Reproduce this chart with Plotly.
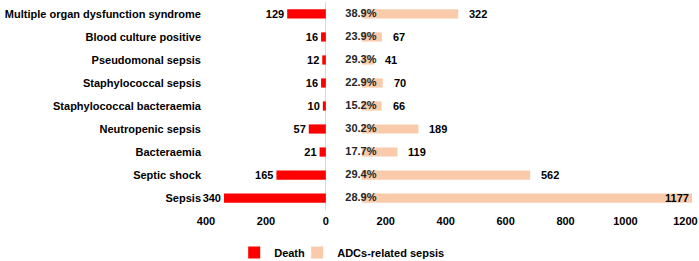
import plotly.graph_objects as go

categories = ["Multiple organ dysfunction syndrome", "Blood culture positive",
              "Pseudomonal sepsis", "Staphylococcal sepsis", "Staphylococcal bacteraemia",
              "Neutropenic sepsis", "Bacteraemia", "Septic shock", "Sepsis"]
death = [129, 16, 12, 16, 10, 57, 21, 165, 340]
adcs = [322, 67, 41, 70, 66, 189, 119, 562, 1177]
pct = ["38.9%", "23.9%", "29.3%", "22.9%", "15.2%", "30.2%", "17.7%", "29.4%", "28.9%"]
tick_vals = [-400, -200, 0, 200, 400, 600, 800, 1000, 1200]
tick_text = ["400", "200", "0", "200", "400", "600", "800", "1000", "1200"]

GAP = 120      # space reserved for the percentage labels (stacked offset in original)
PCT_X = 65
XMIN, XMAX = -400, 1222
FONT = "Arial, Liberation Sans, sans-serif"
BOLD = dict(family=FONT, size=11, color="black", weight="bold")

fig = go.Figure()
fig.add_trace(go.Bar(
    y=categories, x=[-d for d in death], orientation="h", name="Death",
    marker=dict(color="#FF0000", line=dict(width=0)), width=0.4,
    text=[str(d) for d in death], textposition="outside", constraintext="none",
    textfont=BOLD, cliponaxis=False, hoverinfo="skip", legendwidth=18))
fig.add_trace(go.Bar(
    y=categories, x=adcs, base=GAP, orientation="h", name="ADCs-related sepsis",
    marker=dict(color="#F9CBAB", line=dict(width=0)), width=0.4,
    hoverinfo="skip"))
fig.add_trace(go.Scatter(
    y=categories, x=[PCT_X] * len(categories), mode="text", text=pct,
    textposition="middle right", showlegend=False, cliponaxis=False,
    textfont=dict(family=FONT, size=11, color="#262626"), hoverinfo="skip"))

annotations = []
for cat, v in zip(categories, adcs):
    end = GAP + v
    if end > XMAX:
        annotations.append(dict(x=XMAX, y=cat, xref="x", yref="y", text=str(v),
                                showarrow=False, xanchor="right", xshift=-1, font=BOLD))
    else:
        annotations.append(dict(x=end, y=cat, xref="x", yref="y", text=str(v),
                                showarrow=False, xanchor="left", xshift=9, font=BOLD))

fig.update_layout(
    width=699, height=261, barmode="overlay",
    margin=dict(l=206, r=7, t=2, b=51, autoexpand=False),
    paper_bgcolor="white", plot_bgcolor="white",
    font=BOLD,
    annotations=annotations,
    xaxis=dict(range=[XMIN, XMAX], tickvals=tick_vals, ticktext=tick_text,
               showgrid=False, zeroline=True, zerolinecolor="#D9D9D9", zerolinewidth=1,
               showline=False, ticks="", fixedrange=True, ticklabelstandoff=3,
               tickfont=BOLD),
    yaxis=dict(range=[8.52, -0.52], showgrid=False, showline=False, ticks="",
               ticklabelstandoff=4, tickfont=BOLD, fixedrange=True),
    legend=dict(orientation="h", x=0.058, xanchor="left", y=-0.135, yanchor="top",
                font=BOLD, traceorder="normal"),
    showlegend=True,
)

fig.write_html("out.html", config={"displayModeBar": False},
               post_script="document.body.style.margin='0';document.body.style.overflow='hidden';")
